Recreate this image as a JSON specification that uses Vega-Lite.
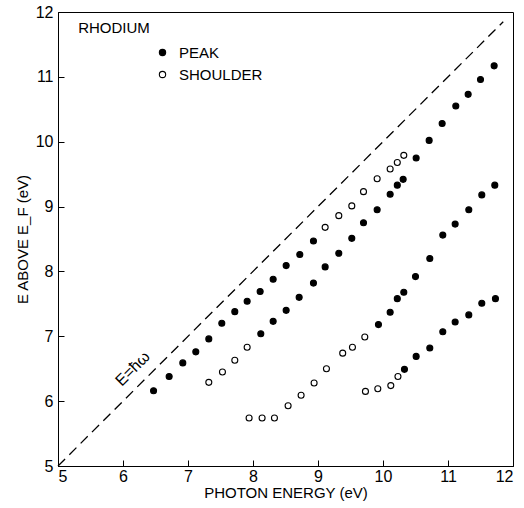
{
  "$schema": "https://vega.github.io/schema/vega-lite/v6.json",
  "width": 455,
  "height": 454,
  "autosize": {"type": "none"},
  "padding": {"left": 58, "top": 12, "right": 11, "bottom": 42},
  "background": "white",
  "config": {
    "font": "Liberation Sans",
    "view": {"stroke": "black", "strokeWidth": 1},
    "axis": {
      "grid": false,
      "domainColor": "black",
      "tickColor": "black",
      "tickSize": -6,
      "labelColor": "black",
      "labelFontSize": 16,
      "titleColor": "black",
      "titleFontSize": 15,
      "titleFontWeight": "normal",
      "format": "d"
    }
  },
  "datasets": {
    "pts": [
      {"x": 6.47, "y": 6.16, "t": "PEAK"}, {"x": 6.71, "y": 6.38, "t": "PEAK"}, {"x": 6.92, "y": 6.59, "t": "PEAK"},
      {"x": 7.12, "y": 6.76, "t": "PEAK"}, {"x": 7.32, "y": 6.96, "t": "PEAK"}, {"x": 7.52, "y": 7.20, "t": "PEAK"},
      {"x": 7.72, "y": 7.38, "t": "PEAK"}, {"x": 7.91, "y": 7.54, "t": "PEAK"}, {"x": 8.11, "y": 7.69, "t": "PEAK"},
      {"x": 8.31, "y": 7.88, "t": "PEAK"}, {"x": 8.51, "y": 8.09, "t": "PEAK"}, {"x": 8.72, "y": 8.26, "t": "PEAK"},
      {"x": 8.93, "y": 8.47, "t": "PEAK"},
      {"x": 9.11, "y": 8.68, "t": "SHOULDER"}, {"x": 9.32, "y": 8.86, "t": "SHOULDER"}, {"x": 9.52, "y": 9.01, "t": "SHOULDER"},
      {"x": 9.70, "y": 9.23, "t": "SHOULDER"}, {"x": 9.91, "y": 9.43, "t": "SHOULDER"}, {"x": 10.11, "y": 9.58, "t": "SHOULDER"},
      {"x": 10.22, "y": 9.68, "t": "SHOULDER"}, {"x": 10.32, "y": 9.79, "t": "SHOULDER"},
      {"x": 10.51, "y": 9.75, "t": "PEAK"}, {"x": 10.71, "y": 10.02, "t": "PEAK"}, {"x": 10.91, "y": 10.28, "t": "PEAK"},
      {"x": 11.12, "y": 10.55, "t": "PEAK"}, {"x": 11.31, "y": 10.73, "t": "PEAK"}, {"x": 11.50, "y": 10.96, "t": "PEAK"},
      {"x": 11.71, "y": 11.17, "t": "PEAK"},
      {"x": 7.32, "y": 6.29, "t": "SHOULDER"}, {"x": 7.53, "y": 6.45, "t": "SHOULDER"}, {"x": 7.72, "y": 6.63, "t": "SHOULDER"},
      {"x": 7.91, "y": 6.83, "t": "SHOULDER"},
      {"x": 8.12, "y": 7.04, "t": "PEAK"}, {"x": 8.31, "y": 7.23, "t": "PEAK"}, {"x": 8.51, "y": 7.40, "t": "PEAK"},
      {"x": 8.71, "y": 7.60, "t": "PEAK"}, {"x": 8.93, "y": 7.82, "t": "PEAK"}, {"x": 9.11, "y": 8.07, "t": "PEAK"},
      {"x": 9.32, "y": 8.28, "t": "PEAK"}, {"x": 9.52, "y": 8.51, "t": "PEAK"}, {"x": 9.70, "y": 8.75, "t": "PEAK"},
      {"x": 9.91, "y": 8.95, "t": "PEAK"}, {"x": 10.11, "y": 9.19, "t": "PEAK"}, {"x": 10.22, "y": 9.33, "t": "PEAK"},
      {"x": 10.31, "y": 9.42, "t": "PEAK"},
      {"x": 7.94, "y": 5.74, "t": "SHOULDER"}, {"x": 8.14, "y": 5.74, "t": "SHOULDER"}, {"x": 8.33, "y": 5.74, "t": "SHOULDER"},
      {"x": 8.54, "y": 5.93, "t": "SHOULDER"}, {"x": 8.74, "y": 6.09, "t": "SHOULDER"}, {"x": 8.94, "y": 6.28, "t": "SHOULDER"},
      {"x": 9.13, "y": 6.50, "t": "SHOULDER"}, {"x": 9.38, "y": 6.74, "t": "SHOULDER"}, {"x": 9.53, "y": 6.83, "t": "SHOULDER"},
      {"x": 9.72, "y": 6.99, "t": "SHOULDER"},
      {"x": 9.93, "y": 7.18, "t": "PEAK"}, {"x": 10.11, "y": 7.37, "t": "PEAK"}, {"x": 10.22, "y": 7.58, "t": "PEAK"},
      {"x": 10.32, "y": 7.68, "t": "PEAK"}, {"x": 10.50, "y": 7.92, "t": "PEAK"}, {"x": 10.72, "y": 8.20, "t": "PEAK"},
      {"x": 10.92, "y": 8.56, "t": "PEAK"}, {"x": 11.11, "y": 8.73, "t": "PEAK"}, {"x": 11.32, "y": 8.95, "t": "PEAK"},
      {"x": 11.52, "y": 9.18, "t": "PEAK"}, {"x": 11.72, "y": 9.33, "t": "PEAK"},
      {"x": 9.73, "y": 6.15, "t": "SHOULDER"}, {"x": 9.92, "y": 6.19, "t": "SHOULDER"}, {"x": 10.12, "y": 6.24, "t": "SHOULDER"},
      {"x": 10.23, "y": 6.38, "t": "SHOULDER"},
      {"x": 10.33, "y": 6.49, "t": "PEAK"}, {"x": 10.51, "y": 6.69, "t": "PEAK"}, {"x": 10.72, "y": 6.82, "t": "PEAK"},
      {"x": 10.92, "y": 7.07, "t": "PEAK"}, {"x": 11.11, "y": 7.22, "t": "PEAK"}, {"x": 11.32, "y": 7.33, "t": "PEAK"},
      {"x": 11.52, "y": 7.51, "t": "PEAK"}, {"x": 11.73, "y": 7.58, "t": "PEAK"}
    ],
    "diag": [{"x": 5, "y": 5}, {"x": 11.85, "y": 11.85}],
    "title": [{"x": 5.31, "y": 11.76, "label": "RHODIUM"}],
    "eq": [{"x": 6.15, "y": 6.5, "label": "E=ħω", "angle": -45}]
  },
  "layer": [
    {
      "data": {"name": "diag"},
      "mark": {"type": "line", "stroke": "black", "strokeDash": [10, 6], "strokeWidth": 1.3},
      "encoding": {
        "x": {
          "field": "x", "type": "quantitative",
          "scale": {"domain": [5, 12], "nice": false, "zero": false},
          "axis": {"values": [5, 6, 7, 8, 9, 10, 11, 12], "labelPadding": 8, "title": "PHOTON ENERGY (eV)", "titlePadding": 1}
        },
        "y": {
          "field": "y", "type": "quantitative",
          "scale": {"domain": [5, 12], "nice": false, "zero": false},
          "axis": {"values": [5, 6, 7, 8, 9, 10, 11, 12], "labelPadding": 11, "title": "E ABOVE E_F (eV)", "titlePadding": 5}
        }
      }
    },
    {
      "data": {"name": "pts"},
      "mark": {"type": "point", "shape": "circle", "filled": true, "stroke": "black", "strokeWidth": 1.1, "opacity": 1, "size": 36},
      "encoding": {
        "x": {"field": "x", "type": "quantitative"},
        "y": {"field": "y", "type": "quantitative"},
        "fill": {
          "field": "t", "type": "nominal",
          "scale": {"domain": ["PEAK", "SHOULDER"], "range": ["black", "white"]},
          "legend": {
            "title": null, "orient": "none", "legendX": 97, "legendY": 33, "padding": 0,
            "labelFontSize": 15, "labelColor": "black", "labelFont": "Liberation Sans", "labelOffset": 9,
            "symbolType": "circle", "symbolSize": 40, "symbolStrokeColor": "black", "symbolStrokeWidth": 1.1,
            "symbolOpacity": 1, "rowPadding": 6
          }
        }
      }
    },
    {
      "data": {"name": "title"},
      "mark": {"type": "text", "align": "left", "baseline": "middle", "fontSize": 15, "color": "black"},
      "encoding": {
        "x": {"field": "x", "type": "quantitative"},
        "y": {"field": "y", "type": "quantitative"},
        "text": {"field": "label"}
      }
    },
    {
      "data": {"name": "eq"},
      "mark": {"type": "text", "align": "center", "baseline": "middle", "fontSize": 16, "color": "black"},
      "encoding": {
        "x": {"field": "x", "type": "quantitative"},
        "y": {"field": "y", "type": "quantitative"},
        "text": {"field": "label"},
        "angle": {"field": "angle", "type": "quantitative", "scale": null}
      }
    }
  ]
}
